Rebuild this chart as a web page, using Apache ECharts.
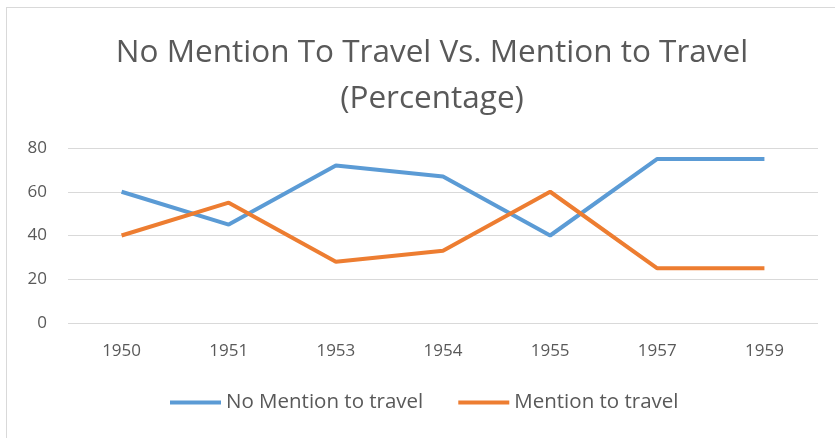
<!DOCTYPE html>
<html>
<head>
<meta charset="utf-8">
<script src="https://cdn.jsdelivr.net/npm/echarts@6/dist/echarts.min.js"></script>
<style>
  html, body { margin: 0; padding: 0; background: #fff; }
  #frame { position: absolute; left: 6px; top: 7px; right: 0; bottom: 0;
           border-left: 1px solid #d9d9d9; border-top: 1px solid #d9d9d9; }
  #chart { position: absolute; left: 0; top: 0; width: 835px; height: 438px; }
</style>
</head>
<body>
<div id="frame"></div>
<div id="chart"></div>
<script>
const years = ['1950', '1951', '1953', '1954', '1955', '1957', '1959']
const noMention = [60, 45, 72, 67, 40, 75, 75]
const mention = [40, 55, 28, 33, 60, 25, 25]
const yTicks = [0, 20, 40, 60, 80]

const chart = echarts.init(document.getElementById('chart'))
const textColor = '#595959'
const font = '"Open Sans", "Noto Sans", sans-serif'

chart.setOption({
  animation: false,
  title: {
    text: 'No Mention To Travel Vs. Mention to Travel\n(Percentage)',
    left: 427,
    textAlign: 'center',
    top: 25,
    textStyle: {
      color: textColor,
      fontFamily: font,
      fontWeight: 'normal',
      fontSize: 31.5,
      lineHeight: 46
    }
  },
  legend: {
    bottom: 20,
    left: 165,
    itemWidth: 51,
    itemHeight: 4,
    itemGap: 35,
    icon: 'rect',
    textStyle: { color: textColor, fontFamily: font, fontSize: 20.5 },
    data: ['No Mention to travel', 'Mention to travel']
  },
  grid: { left: 68, right: 17, top: 148, bottom: 115 },
  xAxis: {
    type: 'category',
    data: years,
    boundaryGap: true,
    axisLine: { show: false },
    axisTick: { show: false },
    axisLabel: { color: textColor, fontFamily: font, fontSize: 17, margin: 20 }
  },
  yAxis: {
    type: 'value',
    min: yTicks[0],
    max: yTicks[yTicks.length - 1],
    interval: 20,
    axisLine: { show: false },
    axisTick: { show: false },
    axisLabel: { color: textColor, fontFamily: font, fontSize: 17, margin: 21 },
    splitLine: { lineStyle: { color: '#d9d9d9', width: 1 } }
  },
  series: [
    {
      name: 'No Mention to travel',
      type: 'line',
      data: noMention,
      symbol: 'none',
      lineStyle: { color: '#5b9bd5', width: 4 },
      itemStyle: { color: '#5b9bd5' }
    },
    {
      name: 'Mention to travel',
      type: 'line',
      data: mention,
      symbol: 'none',
      lineStyle: { color: '#ed7d31', width: 4 },
      itemStyle: { color: '#ed7d31' }
    }
  ]
})
</script>
</body>
</html>
